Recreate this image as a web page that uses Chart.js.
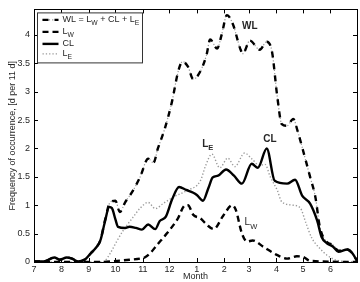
<!DOCTYPE html>
<html>
<head>
<meta charset="utf-8">
<script src="https://cdn.jsdelivr.net/npm/chart.js@4/dist/chart.umd.min.js"></script>
<style>
  html, body { margin: 0; padding: 0; background: #fff; }
  #wrap { width: 360px; height: 282px; }
</style>
</head>
<body>
<div id="wrap"><canvas id="chart" width="360" height="282"></canvas></div>
<script>
'use strict';

// --- Data: x is day counted from 1 July, y is frequency [d per 11 d] ---
const monthStartDays = [0, 31, 62, 92, 123, 153, 184, 215, 243, 274, 304, 335];
const monthLabels = ['7', '8', '9', '10', '11', '12', '1', '2', '3', '4', '5', '6'];
const yTickValues = [0, 0.5, 1, 1.5, 2, 2.5, 3, 3.5, 4];

const wlDays = [0, 11, 23, 29, 37, 43, 50, 58, 64, 70, 75, 80, 86, 92, 97, 103, 112, 120, 129, 135, 140,
    148, 156, 163, 168, 174, 180, 188, 195, 199, 207, 212, 218, 225, 233, 236, 244, 255, 263, 269, 275,
    280, 286, 293, 298, 306, 312, 318, 323, 331, 338, 344, 354, 360, 365];
const wlValues = [0.01, 0.01, 0.08, 0.04, 0.08, 0.06, 0.01, 0.05, 0.15, 0.25, 0.38, 0.72, 1.05, 1.08, 0.88, 1.05, 1.26, 1.5, 1.82, 1.75, 2.0,
    2.36, 2.83, 3.36, 3.53, 3.44, 3.22, 3.36, 3.65, 3.92, 3.76, 4.0, 4.35, 4.18, 3.76, 3.67, 3.9, 3.74, 3.88, 3.7, 2.9,
    2.43, 2.4, 2.52, 2.3, 1.85, 1.5, 1.14, 0.62, 0.35, 0.3, 0.2, 0.22, 0.15, 0.02];

const lwDays = [0, 75, 94, 108, 120, 125, 131, 139, 150, 162, 171, 174, 180, 188, 195, 203, 214, 224, 228,
    235, 241, 247, 259, 275, 286, 297, 304, 312, 365];
const lwValues = [0, 0, 0.02, 0.04, 0.06, 0.08, 0.15, 0.3, 0.5, 0.75, 1.0, 1.0, 0.83, 0.77, 0.66, 0.58, 0.82, 1.0, 0.92,
    0.5, 0.36, 0.38, 0.27, 0.12, 0.06, 0.1, 0.09, 0.02, 0];

const clDays = [0, 11, 23, 29, 37, 43, 50, 58, 64, 70, 75, 80, 85, 88, 92, 95, 103, 108, 115, 122, 129, 137,
    142, 149, 156, 164, 172, 180, 184, 191, 197, 202, 208, 217, 226, 235, 246, 253, 263, 272, 286, 295,
    303, 312, 320, 325, 331, 338, 344, 354, 360, 365];
const clValues = [0.01, 0.01, 0.08, 0.04, 0.08, 0.06, 0.01, 0.05, 0.15, 0.25, 0.38, 0.7, 0.97, 0.95, 0.75, 0.62, 0.6, 0.62, 0.6, 0.57, 0.66, 0.58,
    0.72, 0.8, 1.1, 1.32, 1.27, 1.22, 1.18, 1.08, 1.3, 1.49, 1.52, 1.63, 1.52, 1.38, 1.73, 1.66, 2.0, 1.43, 1.38, 1.45,
    1.17, 1.03, 0.73, 0.44, 0.33, 0.27, 0.18, 0.22, 0.15, 0.02];

const leDays = [0, 75, 80, 86, 93, 101, 112, 120, 129, 137, 146, 157, 173, 188, 194, 201, 210, 219, 227,
    238, 246, 255, 261, 267, 275, 280, 293, 301, 307, 314, 323, 331, 342, 365];
const leValues = [0, 0, 0.02, 0.15, 0.35, 0.56, 0.79, 0.95, 1.05, 0.94, 1.03, 1.14, 1.26, 1.43, 1.7, 1.9, 1.66, 1.83, 1.68,
    1.92, 1.82, 1.7, 1.72, 1.5, 1.26, 1.06, 1.0, 0.95, 0.7, 0.42, 0.24, 0.12, 0.03, 0];

// --- Styling ---
const FONT = "'Liberation Sans', Arial, sans-serif";
const TEXT_COLOR = '#262626';

const toPoints = (days, values) => days.map((d, i) => ({ x: d, y: values[i] }));

const styles = {
    wlDots: { color: '#9a9a9a', width: 1.2, dash: [1.2, 2] },
    wl: { color: '#000', width: 2.4, dash: [6, 6] },
    lw: { color: '#000', width: 2.4, dash: [6, 4] },
    cl: { color: '#000', width: 2.4, dash: [] },
    le: { color: '#9a9a9a', width: 1.4, dash: [1.3, 2] }
};

const legendRows = [
    { keys: ['wlDots', 'wl'], parts: [['WL = L', 0], ['W', 1], [' + CL + L', 0], ['E', 1]] },
    { keys: ['lw'], parts: [['L', 0], ['W', 1]] },
    { keys: ['cl'], parts: [['CL', 0]] },
    { keys: ['le'], parts: [['L', 0], ['E', 1]] }
];

// text labels anchored in data coordinates (day, value)
const curveLabels = [
    { day: 235, value: 4.1, bold: true, parts: [['WL', 0]] },
    { day: 259, value: 2.12, bold: true, parts: [['CL', 0]] },
    { day: 190, value: 2.03, bold: true, parts: [['L', 0], ['E', 1]] },
    { day: 238, value: 0.65, bold: false, parts: [['L', 0], ['W', 1]] }
];

function drawParts(ctx, parts, x, y, size, bold) {
    const weight = bold ? 'bold ' : '';
    parts.forEach(([txt, sub]) => {
        ctx.font = weight + (sub ? size * 0.75 : size) + 'px ' + FONT;
        ctx.fillText(txt, x, sub ? y + size * 0.35 : y);
        x += ctx.measureText(txt).width;
    });
}

function strokeSample(ctx, st, x1, x2, y) {
    ctx.save();
    ctx.strokeStyle = st.color;
    ctx.lineWidth = st.width;
    ctx.setLineDash(st.dash);
    ctx.beginPath();
    ctx.moveTo(x1, y);
    ctx.lineTo(x2, y);
    ctx.stroke();
    ctx.restore();
}

// frame with inward ticks on all four sides, legend box and curve labels
const framePlugin = {
    id: 'frame',
    afterDraw(chart) {
        const { ctx, chartArea: a, scales: { x, y } } = chart;
        const tick = 4;
        ctx.save();
        ctx.strokeStyle = '#000';
        ctx.lineWidth = 1;
        ctx.strokeRect(Math.round(a.left) + 0.5, Math.round(a.top) + 0.5,
            Math.round(a.right - a.left), Math.round(a.bottom - a.top));
        ctx.beginPath();
        monthStartDays.forEach(d => {
            const px = Math.round(x.getPixelForValue(d)) + 0.5;
            ctx.moveTo(px, a.bottom); ctx.lineTo(px, a.bottom - tick);
            ctx.moveTo(px, a.top); ctx.lineTo(px, a.top + tick);
        });
        yTickValues.forEach(v => {
            const py = Math.round(y.getPixelForValue(v)) + 0.5;
            ctx.moveTo(a.left, py); ctx.lineTo(a.left + tick, py);
            ctx.moveTo(a.right, py); ctx.lineTo(a.right - tick, py);
        });
        ctx.stroke();

        // legend
        const bx = a.left + 3.5, by = a.top + 3.5, bw = 105, bh = 50;
        ctx.fillStyle = '#fff';
        ctx.fillRect(bx, by, bw, bh);
        ctx.strokeStyle = '#333';
        ctx.strokeRect(bx, by, bw, bh);
        ctx.fillStyle = TEXT_COLOR;
        ctx.textBaseline = 'middle';
        const rowY = [by + 7, by + 19, by + 31, by + 41];
        legendRows.forEach((row, i) => {
            row.keys.forEach(k => strokeSample(ctx, styles[k], bx + 5, bx + 21, rowY[i]));
            drawParts(ctx, row.parts, bx + 25, rowY[i], 9, false);
        });

        // curve labels
        ctx.textBaseline = 'alphabetic';
        curveLabels.forEach(lb => {
            drawParts(ctx, lb.parts, x.getPixelForValue(lb.day), y.getPixelForValue(lb.value), 10, lb.bold);
        });
        ctx.restore();
    }
};

const makeDataset = (key, days, values, order) => ({
    label: key,
    data: toPoints(days, values),
    borderColor: styles[key].color,
    borderWidth: styles[key].width,
    borderDash: styles[key].dash,
    order: order
});

const canvas = document.getElementById('chart');
new Chart(canvas.getContext('2d'), {
    type: 'line',
    data: {
        datasets: [
            makeDataset('cl', clDays, clValues, 0),
            makeDataset('lw', lwDays, lwValues, 1),
            makeDataset('le', leDays, leValues, 2),
            makeDataset('wl', wlDays, wlValues, 3),
            makeDataset('wlDots', wlDays, wlValues, 4)
        ]
    },
    options: {
        responsive: false,
        animation: false,
        events: [],
        elements: {
            point: { radius: 0 },
            line: { cubicInterpolationMode: 'monotone', fill: false, borderCapStyle: 'butt' }
        },
        layout: { padding: { top: 7, right: 3, left: 0, bottom: 0 } },
        plugins: { legend: { display: false }, tooltip: { enabled: false } },
        scales: {
            x: {
                type: 'linear', min: 0, max: 365,
                afterBuildTicks: s => { s.ticks = monthStartDays.map(v => ({ value: v })); },
                afterFit: s => { s.height = 20; },
                grid: { display: false, drawTicks: false },
                border: { display: false },
                ticks: {
                    autoSkip: false, maxRotation: 0, padding: 2, color: TEXT_COLOR,
                    font: { family: FONT, size: 9 },
                    callback: v => monthLabels[monthStartDays.indexOf(v)]
                },
                title: { display: true, text: 'Month', color: TEXT_COLOR, padding: 0, font: { family: FONT, size: 9 } }
            },
            y: {
                type: 'linear', min: 0, max: 4.45,
                afterBuildTicks: s => { s.ticks = yTickValues.map(v => ({ value: v })); },
                afterFit: s => { s.width = 34; },
                grid: { display: false, drawTicks: false },
                border: { display: false },
                ticks: {
                    padding: 4, color: TEXT_COLOR,
                    font: { family: FONT, size: 9 },
                    callback: v => String(v)
                },
                title: {
                    display: true, text: 'Frequency of occurrence, [d per 11 d]', color: TEXT_COLOR,
                    padding: { top: 7, bottom: 0 }, font: { family: FONT, size: 9 }
                }
            }
        }
    },
    plugins: [framePlugin]
});
</script>
</body>
</html>
